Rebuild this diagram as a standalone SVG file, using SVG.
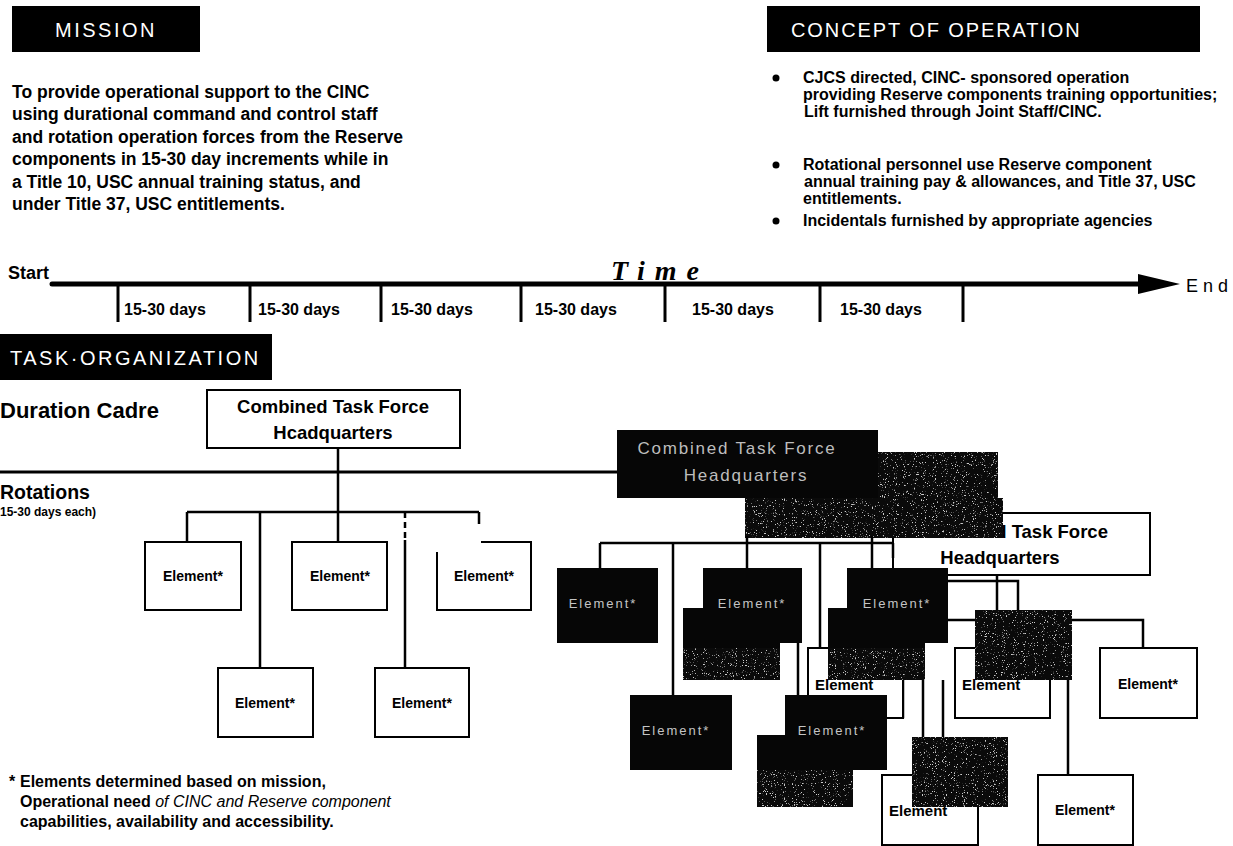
<svg xmlns="http://www.w3.org/2000/svg" width="1233" height="846" viewBox="0 0 1233 846">
<defs>
<style>
text{font-family:"Liberation Sans",Arial,sans-serif;fill:#000}
.hdr{fill:#000}
.hdrt{font-size:20px;fill:#fff;letter-spacing:2.5px}
.body{font-size:17.5px;font-weight:bold}
.con{font-size:16px;font-weight:bold}
.lab{font-size:16px;font-weight:bold}
.el{font-size:14px;font-weight:bold;text-anchor:middle}
.elp{font-size:15px;font-weight:bold}
.eld{font-size:13px;fill:#c4c4c4;letter-spacing:2px;text-anchor:middle}
.hqt{font-size:18.5px;font-weight:bold;text-anchor:middle}
.hqd{font-size:17px;fill:#bdbdbd;letter-spacing:1.8px;text-anchor:middle}
.box{fill:#fff;stroke:#000;stroke-width:2}
.dbox{fill:#060606}
.grain{fill:#0a0a0a;filter:url(#grain)}
.ln{stroke:#000;stroke-width:2.5;fill:none}
.tk{stroke:#000;stroke-width:3}
.foot{font-size:16px;font-weight:bold}
</style>
<filter id="grain" x="0" y="0" width="100%" height="100%" color-interpolation-filters="sRGB">
<feTurbulence type="fractalNoise" baseFrequency="0.9" numOctaves="2" seed="4" result="t"/>
<feColorMatrix in="t" type="matrix" values="0 0 0 0 0.8 0 0 0 0 0.8 0 0 0 0 0.8 10 0 0 0 -6.4" result="s"/>
<feComposite in="s" in2="SourceAlpha" operator="in" result="sc"/>
<feMerge><feMergeNode in="SourceGraphic"/><feMergeNode in="sc"/></feMerge>
</filter>
</defs>
<rect width="1233" height="846" fill="#fff"/>

<g id="mission">
<rect class="hdr" x="12" y="6" width="188" height="46"/>
<text class="hdrt" x="106" y="37" text-anchor="middle">MISSION</text>
<text class="body" x="12" y="98">To provide operational support to the CINC</text>
<text class="body" x="12" y="120">using durational command and control staff</text>
<text class="body" x="12" y="143">and rotation operation forces from the Reserve</text>
<text class="body" x="12" y="165">components in 15-30 day increments while in</text>
<text class="body" x="12" y="188">a Title 10, USC annual training status, and</text>
<text class="body" x="12" y="210">under Title 37, USC entitlements.</text>
</g>

<g id="concept">
<rect class="hdr" x="767" y="6" width="433" height="46"/>
<text class="hdrt" x="791" y="37" style="letter-spacing:1.9px">CONCEPT OF OPERATION</text>
<circle cx="776" cy="78" r="3.5"/>
<text class="con" x="803" y="83">CJCS directed, CINC- sponsored operation</text>
<text class="con" x="803" y="100">providing Reserve components training opportunities;</text>
<text class="con" x="804" y="117">Lift furnished through Joint Staff/CINC.</text>
<circle cx="776" cy="165" r="3.5"/>
<text class="con" x="803" y="170">Rotational personnel use Reserve component</text>
<text class="con" x="804" y="187">annual training pay &amp; allowances, and Title 37, USC</text>
<text class="con" x="803" y="204">entitlements.</text>
<circle cx="776" cy="221" r="3.5"/>
<text class="con" x="803" y="226">Incidentals  furnished by appropriate agencies</text>
</g>

<g id="timeline">
<text x="8" y="279" font-size="18" font-weight="bold">Start</text>
<text x="611" y="280" font-size="28" font-weight="bold" font-style="italic" letter-spacing="10" style="font-family:'Liberation Serif',serif">Time</text>
<line x1="52" y1="284" x2="1145" y2="284" stroke="#000" stroke-width="5" stroke-linecap="round"/>
<polygon points="1138,274 1180,284 1138,294" fill="#000"/>
<text x="1186" y="292" font-size="18" letter-spacing="5">End</text>
<line class="tk" x1="118" y1="286" x2="118" y2="322"/>
<line class="tk" x1="250" y1="286" x2="250" y2="322"/>
<line class="tk" x1="381" y1="286" x2="381" y2="322"/>
<line class="tk" x1="521" y1="286" x2="521" y2="322"/>
<line class="tk" x1="665" y1="286" x2="665" y2="322"/>
<line class="tk" x1="820" y1="286" x2="820" y2="322"/>
<line class="tk" x1="963" y1="286" x2="963" y2="322"/>
<text class="lab" x="124" y="315">15-30 days</text>
<text class="lab" x="258" y="315">15-30 days</text>
<text class="lab" x="391" y="315">15-30 days</text>
<text class="lab" x="535" y="315">15-30 days</text>
<text class="lab" x="692" y="315">15-30 days</text>
<text class="lab" x="840" y="315">15-30 days</text>
</g>

<g id="taskorg">
<rect class="hdr" x="0" y="334" width="272" height="46"/>
<text class="hdrt" x="10" y="365">TASK·ORGANIZATION</text>
<text x="0" y="418" font-size="22" font-weight="bold">Duration Cadre</text>
<text x="0" y="499" font-size="19.5" font-weight="bold">Rotations</text>
<text x="0" y="516" font-size="12" font-weight="bold">15-30 days each)</text>
</g>

<g id="hq-cadre">
<rect class="box" x="207" y="390" width="253" height="58"/>
<text class="hqt" x="333" y="413">Combined Task Force</text>
<text class="hqt" x="333" y="439">Hcadquarters</text>
</g>

<g id="hq-dark">
<rect class="grain" x="745" y="452" width="253" height="84"/>
<rect class="dbox" x="617" y="430" width="261" height="68"/>
<text class="hqd" x="737" y="454">Combined Task Force</text>
<text class="hqd" x="746" y="481">Headquarters</text>
</g>

<g id="hq-right">
<rect class="box" x="893" y="513" width="257" height="62"/>
<text class="hqt" x="1012" y="538">Combined Task Force</text>
<text class="hqt" x="1000" y="564">Headquarters</text>
<rect class="grain" x="745" y="498" width="258" height="40"/>
</g>

<g id="connectors">
<line x1="0" y1="472" x2="617" y2="472" stroke="#000" stroke-width="3"/>
<path class="ln" d="M338,448 V542 M187,512 H479 M187,512 V542 M260,512 V668 M405,540 V668 M479,512 V524"/>
<path class="ln" d="M405,512 V540" stroke-dasharray="6,4"/>
<path class="ln" d="M600,543 H893 M600,543 V568 M673,543 V695 M747,536 V568 M820,543 V695 M872,536 V568 M893,543 V558"/>
<path class="ln" d="M798,643 V695 M887,717 H903 V680 M923,680 V737 M943,680 V737"/>
<path class="ln" d="M997,575 V610 M948,581 H1018 V610 M948,620 H975 M1072,620 H1143 V648 M1068,680 V775"/>
</g>

<g id="el-l1"><rect class="box" x="145" y="542" width="96" height="68"/><text class="el" x="193" y="581">Element*</text></g>
<g id="el-l2"><rect class="box" x="292" y="542" width="95" height="68"/><text class="el" x="340" y="581">Element*</text></g>
<g id="el-l3"><path class="box" d="M481,542 H531 V610 H437 V552"/><text class="el" x="484" y="581">Element*</text></g>
<g id="el-l4"><rect class="box" x="218" y="668" width="95" height="69"/><text class="el" x="265" y="708">Element*</text></g>
<g id="el-l5"><rect class="box" x="375" y="668" width="94" height="69"/><text class="el" x="422" y="708">Element*</text></g>

<g id="el-w1"><rect class="box" x="808" y="648" width="95" height="70"/><text class="elp" x="815" y="690">Element</text></g>
<g id="el-w2"><rect class="box" x="955" y="648" width="95" height="70"/><text class="elp" x="962" y="690">Element</text></g>
<g id="el-hw"><rect class="box" x="882" y="775" width="96" height="70"/><text class="elp" x="889" y="816">Element</text></g>

<g id="el-a"><rect class="dbox" x="557" y="568" width="101" height="75"/><text class="eld" x="603" y="608">Element*</text></g>
<g id="el-b2"><rect class="dbox" x="683" y="608" width="97" height="72"/><rect class="grain" x="683" y="648" width="97" height="32"/></g>
<g id="el-b"><rect class="dbox" x="703" y="568" width="99" height="75"/><text class="eld" x="752" y="608">Element*</text></g>
<g id="el-c2"><rect class="dbox" x="828" y="608" width="97" height="72"/><rect class="grain" x="828" y="648" width="97" height="32"/></g>
<g id="el-c"><rect class="dbox" x="847" y="568" width="101" height="75"/><text class="eld" x="897" y="608">Element*</text></g>
<g id="el-d"><rect class="dbox" x="630" y="695" width="102" height="75"/><text class="eld" x="676" y="735">Element*</text></g>
<g id="el-e2"><rect class="dbox" x="757" y="735" width="96" height="72"/><rect class="grain" x="757" y="770" width="96" height="37"/></g>
<g id="el-e"><rect class="dbox" x="785" y="695" width="102" height="75"/><text class="eld" x="832" y="735">Element*</text></g>
<g id="el-f"><rect class="grain" x="975" y="610" width="97" height="70"/></g>
<g id="el-h"><rect class="grain" x="912" y="737" width="96" height="70"/></g>
<g id="el-g"><rect class="box" x="1100" y="648" width="97" height="70"/><text class="el" x="1148" y="689">Element*</text></g>
<g id="el-i"><rect class="box" x="1038" y="775" width="95" height="70"/><text class="el" x="1085" y="815">Element*</text></g>

<g id="footnote">
<text class="foot" x="9" y="787">*</text>
<text class="foot" x="20" y="787">Elements determined  based on mission,</text>
<text class="foot" x="20" y="807">Operational need <tspan font-style="italic" font-weight="normal">of CINC and Reserve component</tspan></text>
<text class="foot" x="20" y="827">capabilities, availability and accessibility.</text>
</g>
</svg>
